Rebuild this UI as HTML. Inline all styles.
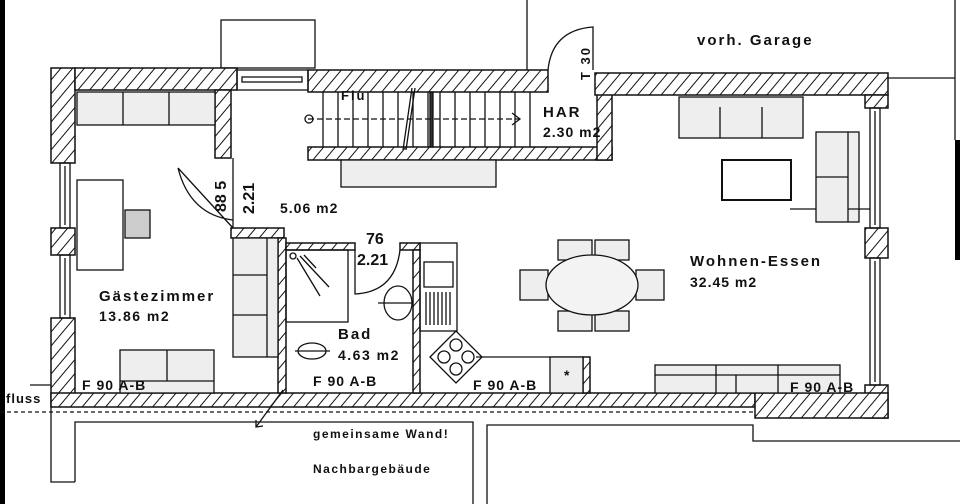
<!DOCTYPE html>
<html><head><meta charset="utf-8"><style>
html,body{margin:0;padding:0;background:#fff;width:960px;height:504px;overflow:hidden}
svg{display:block}
text{font-family:"Liberation Sans",sans-serif;font-weight:bold;fill:#111;letter-spacing:2px}
</style></head><body>
<svg width="960" height="504" viewBox="0 0 960 504" xmlns="http://www.w3.org/2000/svg">
<defs>
<pattern id="h" width="9" height="9" patternUnits="userSpaceOnUse" patternTransform="rotate(40)">
<rect width="9" height="9" fill="#fff"/><line x1="0" y1="0" x2="0" y2="9" stroke="#111" stroke-width="2"/>
</pattern>
</defs>
<rect x="0" y="0" width="5" height="504" fill="#000"/>
<rect x="955" y="140" width="5" height="120" fill="#000"/>
<g stroke="#111" stroke-width="1.3" fill="none">
<rect x="221" y="20" width="94" height="48"/>
<line x1="527" y1="0" x2="527" y2="70"/>
<line x1="888" y1="78" x2="955" y2="78"/>
<line x1="955" y1="0" x2="955" y2="140"/>
<path d="M548 70 Q552 30 593 27 L593 70"/>
</g>
<g fill="url(#h)" stroke="#111" stroke-width="1.5">
<rect x="51" y="68" width="24" height="95"/>
<rect x="51" y="228" width="24" height="27"/>
<rect x="51" y="318" width="24" height="88"/>
<rect x="75" y="68" width="162" height="22"/>
<rect x="215" y="90" width="16" height="68"/>
<rect x="308" y="70" width="240" height="22"/>
<rect x="308" y="147" width="304" height="13"/>
<rect x="597" y="92" width="15" height="68"/>
<rect x="595" y="73" width="293" height="22"/>
<rect x="865" y="95" width="23" height="13"/>
<rect x="865" y="228" width="23" height="30"/>
<rect x="865" y="385" width="23" height="33"/>
<rect x="51" y="393" width="704" height="14"/>
<rect x="755" y="393" width="133" height="25"/>
<rect x="231" y="228" width="53" height="10"/>
<rect x="278" y="238" width="8" height="155"/>
<rect x="286" y="243" width="69" height="7"/>
<rect x="400" y="243" width="20" height="7"/>
<rect x="413" y="250" width="7" height="143"/>
<rect x="583" y="357" width="7" height="36"/>
</g>
<g stroke="#111" stroke-width="1.3" fill="none">
<rect x="237" y="70" width="71" height="20"/>
<rect x="242" y="77" width="60" height="5"/>
<rect x="60" y="163" width="10" height="65"/><line x1="65" y1="166" x2="65" y2="225"/>
<rect x="60" y="255" width="10" height="63"/><line x1="65" y1="258" x2="65" y2="315"/>
<rect x="870" y="108" width="10" height="120"/><line x1="875" y1="111" x2="875" y2="225"/>
<rect x="870" y="258" width="10" height="127"/><line x1="875" y1="261" x2="875" y2="382"/>
<line x1="308" y1="119" x2="520" y2="119" stroke-dasharray="6 3"/>
<path d="M512 113 L520 119 L512 125"/>
<circle cx="309" cy="119" r="4"/>
<path d="M323 92V147M338 92V147M353 92V147M368 92V147M383 92V147M398 92V147M413 92V147M428 92V147M440 92V147M455 92V147M470 92V147M485 92V147M500 92V147M515 92V147M530 92V147"/>
<line x1="412" y1="88" x2="403" y2="150"/>
<line x1="415" y1="88" x2="406" y2="150"/>
<rect x="430" y="92" width="3" height="55" fill="#333"/>
<rect x="341" y="160" width="155" height="27" fill="#eee"/>
<rect x="77" y="92" width="138" height="33" fill="#eee"/>
<line x1="123" y1="92" x2="123" y2="125"/><line x1="169" y1="92" x2="169" y2="125"/>
<rect x="77" y="180" width="46" height="90"/>
<rect x="125" y="210" width="25" height="28" fill="#ccc"/>
<rect x="120" y="350" width="94" height="43" fill="#eee"/>
<line x1="167" y1="350" x2="167" y2="381"/><line x1="120" y1="381" x2="214" y2="381"/>
<path d="M233 228 L178 168 M178 168 Q190 215 233 220" />
<line x1="233" y1="158" x2="233" y2="228"/>
<rect x="233" y="238" width="45" height="119" fill="#eee"/>
<line x1="233" y1="275" x2="267" y2="275"/><line x1="233" y1="315" x2="267" y2="315"/>
<line x1="267" y1="238" x2="267" y2="357"/>
<rect x="286" y="250" width="62" height="72"/>
<circle cx="293" cy="256" r="3"/>
<path d="M297 258 L320 296 M300 256 L329 287 M304 255 L316 268"/>
<path d="M355 250 L355 294 Q395 292 400 250"/>
<ellipse cx="398" cy="303" rx="14" ry="17"/>
<line x1="378" y1="303" x2="413" y2="303"/>
<ellipse cx="312" cy="351" rx="14" ry="8"/>
<line x1="295" y1="351" x2="330" y2="351"/>
<rect x="420" y="243" width="37" height="88"/>
<rect x="424" y="262" width="29" height="25"/>
<path d="M426 292V325M430 292V325M434 292V325M438 292V325M442 292V325M446 292V325M450 292V325"/>
<path d="M430 357 L456 331 L482 357 L456 383 Z" fill="#fff"/>
<circle cx="456" cy="345" r="6"/><circle cx="456" cy="369" r="6"/><circle cx="444" cy="357" r="6"/><circle cx="468" cy="357" r="6"/>
<line x1="476" y1="357" x2="583" y2="357"/>
<rect x="550" y="357" width="33" height="36" fill="#eee"/>
<rect x="679" y="97" width="124" height="41" fill="#eee"/>
<line x1="720" y1="107" x2="720" y2="138"/><line x1="762" y1="107" x2="762" y2="138"/>
<rect x="722" y="160" width="69" height="40" stroke-width="2"/>
<rect x="816" y="132" width="43" height="90" fill="#eee"/>
<line x1="816" y1="177" x2="848" y2="177"/><line x1="848" y1="132" x2="848" y2="222"/>
<line x1="790" y1="209" x2="816" y2="209"/><line x1="848" y1="209" x2="870" y2="209"/>
<rect x="558" y="240" width="34" height="20" fill="#eee"/><rect x="595" y="240" width="34" height="20" fill="#eee"/>
<rect x="558" y="311" width="34" height="20" fill="#eee"/><rect x="595" y="311" width="34" height="20" fill="#eee"/>
<rect x="520" y="270" width="28" height="30" fill="#eee"/><rect x="636" y="270" width="28" height="30" fill="#eee"/>
<ellipse cx="592" cy="285" rx="46" ry="30" fill="#f3f3f3"/>
<rect x="655" y="365" width="185" height="28" fill="#eee"/>
<line x1="655" y1="375" x2="840" y2="375"/><line x1="716" y1="365" x2="716" y2="393"/><line x1="778" y1="365" x2="778" y2="393"/><line x1="736" y1="375" x2="736" y2="393"/>
<line x1="283" y1="390" x2="256" y2="427"/><path d="M256 420 L256 427 L263 426"/>
<line x1="0" y1="412" x2="755" y2="412" stroke-dasharray="4 3"/>
<path d="M75 482 V422 H473 V504"/>
<path d="M487 504 V425 H753 V441 H960"/>
<path d="M51 406 V482 H75"/>
<line x1="30" y1="385" x2="51" y2="385"/>
</g>
<text x="697" y="45" font-size="15">vorh. Garage</text>
<text x="590" y="80" font-size="13" transform="rotate(-90 590 80)">T 30</text>
<text x="543" y="117" font-size="15">HAR</text>
<text x="543" y="137" font-size="14" style="letter-spacing:1px">2.30 m2</text>
<text x="341" y="100" font-size="13">Flu</text>
<text x="280" y="213" font-size="14" style="letter-spacing:1px">5.06 m2</text>
<text x="226" y="212" font-size="16" font-weight="normal" transform="rotate(-90 226 212)" style="letter-spacing:0">88 5</text>
<text x="254" y="214" font-size="16" font-weight="normal" transform="rotate(-90 254 214)" style="letter-spacing:0">2.21</text>
<text x="366" y="244" font-size="16" font-weight="normal" style="letter-spacing:0">76</text>
<text x="357" y="265" font-size="16" font-weight="normal" style="letter-spacing:0">2.21</text>
<text x="99" y="301" font-size="15">Gästezimmer</text>
<text x="99" y="321" font-size="14" style="letter-spacing:1.5px">13.86 m2</text>
<text x="338" y="339" font-size="15">Bad</text>
<text x="338" y="360" font-size="14" style="letter-spacing:1.5px">4.63 m2</text>
<text x="690" y="266" font-size="15">Wohnen-Essen</text>
<text x="690" y="287" font-size="14" style="letter-spacing:1px">32.45 m2</text>
<text x="82" y="390" font-size="14" style="letter-spacing:1px">F 90 A-B</text>
<text x="313" y="386" font-size="14" style="letter-spacing:1px">F 90 A-B</text>
<text x="473" y="390" font-size="14" style="letter-spacing:1px">F 90 A-B</text>
<text x="790" y="392" font-size="14" style="letter-spacing:1px">F 90 A-B</text>
<text x="564" y="380" font-size="14">*</text>
<text x="6" y="403" font-size="13" font-weight="normal" style="letter-spacing:1px">fluss</text>
<text x="313" y="438" font-size="12" style="letter-spacing:1.5px">gemeinsame Wand!</text>
<text x="313" y="473" font-size="12" style="letter-spacing:1.5px">Nachbargebäude</text>
</svg>
</body></html>
